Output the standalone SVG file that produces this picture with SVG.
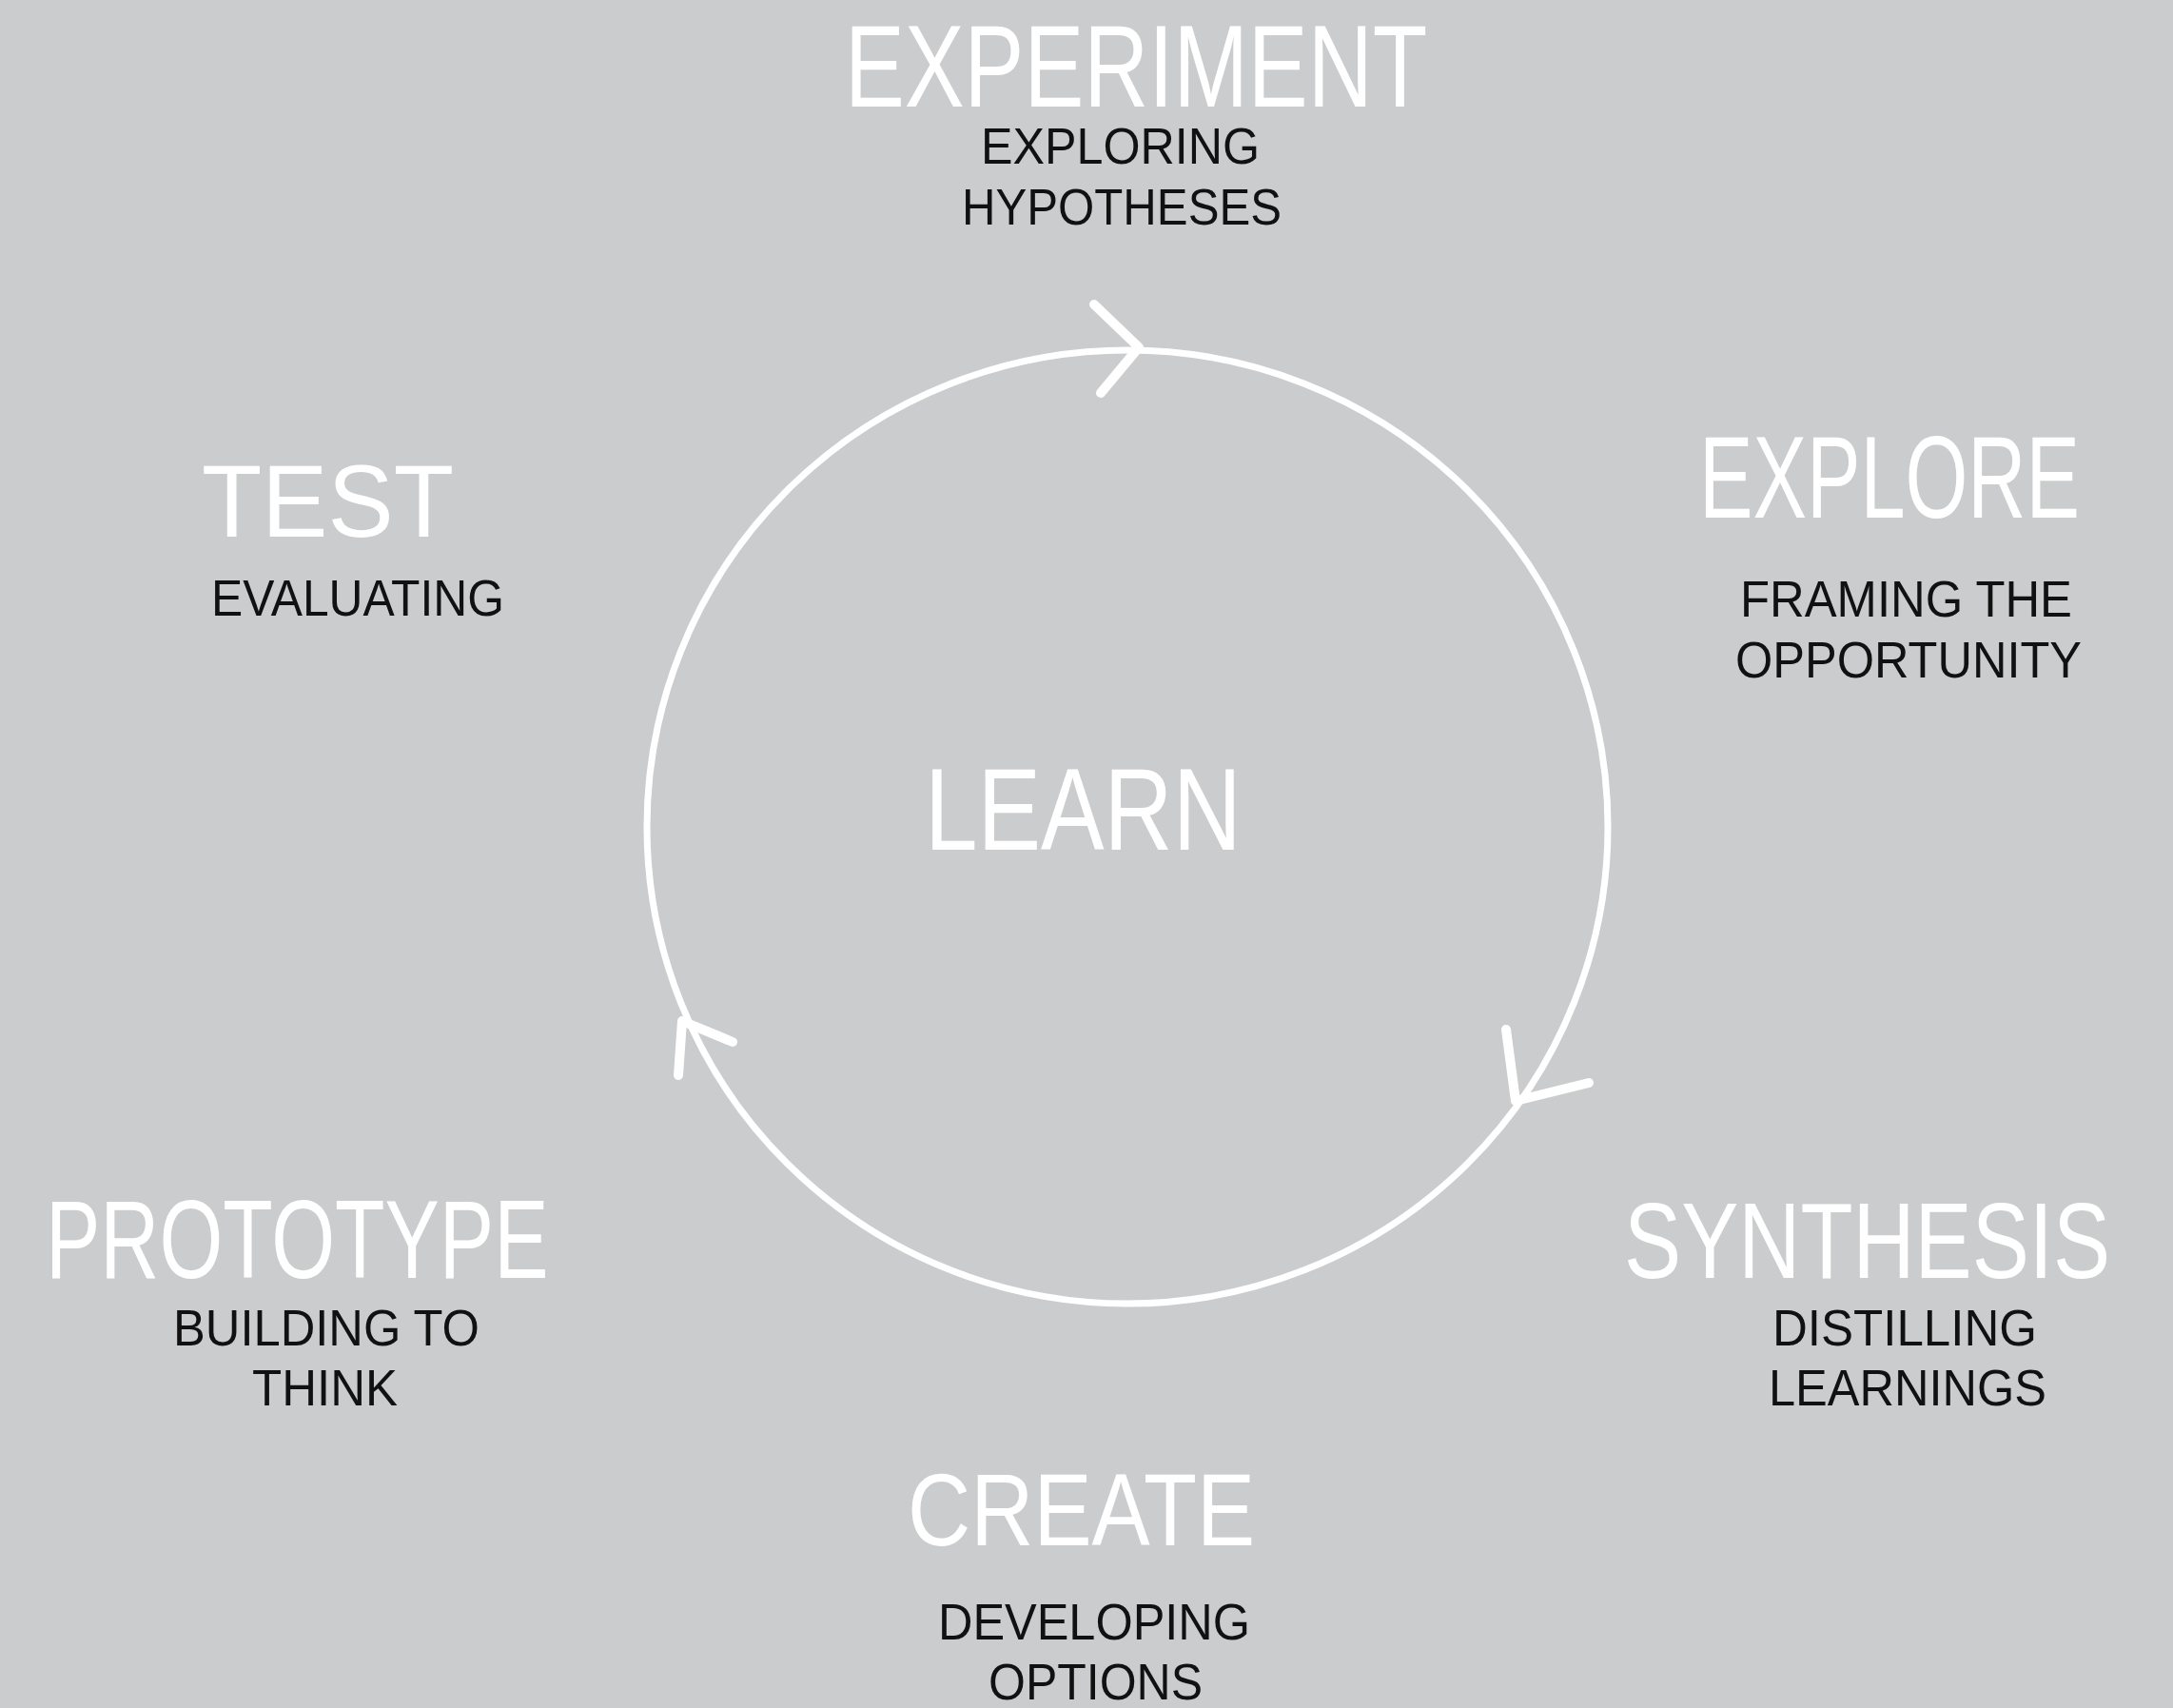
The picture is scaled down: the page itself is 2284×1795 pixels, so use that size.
<svg xmlns="http://www.w3.org/2000/svg" width="2284" height="1795" viewBox="0 0 2284 1795">
  <defs>
    <style>
      .hand { font-family: "Liberation Sans", "DejaVu Sans", sans-serif; fill: #ffffff; }
      .sub { font-family: "Liberation Sans", "DejaVu Sans", sans-serif; font-size: 54px; fill: #111111; }
      .line { fill: none; stroke: #ffffff; stroke-width: 7; stroke-linecap: round; stroke-linejoin: round; }
      .head { fill: none; stroke: #ffffff; stroke-width: 10; stroke-linecap: round; stroke-linejoin: round; }
    </style>
  </defs>
  <rect x="0" y="0" width="2284" height="1795" fill="#cbcccd"/>

  <g id="connectors">
    <ellipse class="line" cx="1185" cy="869" rx="505" ry="501"/>
    <path class="head" d="M1150,320 L1197,365 L1157,413"/>
    <path class="head" d="M1583,1082 L1593,1157 L1670,1138"/>
    <path class="head" d="M713,1130 L717,1073 L770,1095"/>
  </g>

  <g id="experiment">
    <text class="hand" transform="translate(888,112) scale(0.772,1)" x="0" y="0" font-size="122">EXPERIMENT</text>
    <text class="sub" x="1031" y="172" textLength="293" lengthAdjust="spacingAndGlyphs">EXPLORING</text>
    <text class="sub" x="1011" y="236" textLength="336" lengthAdjust="spacingAndGlyphs">HYPOTHESES</text>
  </g>

  <g id="explore">
    <text class="hand" transform="translate(1786,544) scale(0.694,1)" x="0" y="0" font-size="122">EXPLORE</text>
    <text class="sub" x="1829" y="648" textLength="349" lengthAdjust="spacingAndGlyphs">FRAMING THE</text>
    <text class="sub" x="1824" y="712" textLength="364" lengthAdjust="spacingAndGlyphs">OPPORTUNITY</text>
  </g>

  <g id="synthesis">
    <text class="hand" transform="translate(1707,1343) scale(0.791,1)" x="0" y="0" font-size="114">SYNTHESIS</text>
    <text class="sub" x="1863" y="1414" textLength="278" lengthAdjust="spacingAndGlyphs">DISTILLING</text>
    <text class="sub" x="1859" y="1477" textLength="292" lengthAdjust="spacingAndGlyphs">LEARNINGS</text>
  </g>

  <g id="create">
    <text class="hand" transform="translate(954,1624) scale(0.849,1)" x="0" y="0" font-size="108">CREATE</text>
    <text class="sub" x="986" y="1723" textLength="328" lengthAdjust="spacingAndGlyphs">DEVELOPING</text>
    <text class="sub" x="1039" y="1786" textLength="225" lengthAdjust="spacingAndGlyphs">OPTIONS</text>
  </g>

  <g id="prototype">
    <text class="hand" transform="translate(48,1343) scale(0.741,1)" x="0" y="0" font-size="116">PROTOTYPE</text>
    <text class="sub" x="182" y="1414" textLength="322" lengthAdjust="spacingAndGlyphs">BUILDING TO</text>
    <text class="sub" x="265" y="1477" textLength="153" lengthAdjust="spacingAndGlyphs">THINK</text>
  </g>

  <g id="test">
    <text class="hand" transform="translate(212,564) scale(0.96,1)" x="0" y="0" font-size="108">TEST</text>
    <text class="sub" x="222" y="647" textLength="308" lengthAdjust="spacingAndGlyphs">EVALUATING</text>
  </g>

  <g id="learn">
    <text class="hand" transform="translate(972,893) scale(0.818,1)" x="0" y="0" font-size="122">LEARN</text>
  </g>
</svg>
